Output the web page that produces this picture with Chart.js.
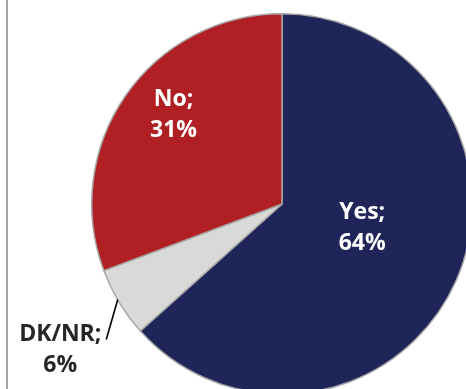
<!DOCTYPE html>
<html>
<head>
<meta charset="utf-8">
<script src="https://cdn.jsdelivr.net/npm/chart.js@4/dist/chart.umd.min.js"></script>
<style>
  html, body { margin: 0; padding: 0; background: #fff; }
  #frame { position: relative; width: 466px; height: 389px; overflow: hidden; background: #fff; }
  #frame canvas { position: absolute; left: 0; top: 0; }
  #rule { position: absolute; left: 6px; top: 0; width: 2px; height: 389px; background: #a6a6a6; }
</style>
</head>
<body>
<div id="frame">
  <canvas id="pie" width="564" height="408"></canvas>
  <div id="rule"></div>
</div>
<script>
const answers = ['Yes', 'DK/NR', 'No'];
const shares = [64, 6, 31];
const sliceColors = ['#1f2459', '#d9d9d7', '#b01f24'];
const labelColors = ['#ffffff', '#262626', '#ffffff'];

// where each label sits: inside labels at a fraction of the radius,
// outside labels hang off a short leader line
const labelSpots = [
    { frac: 0.45, dx: 2, dy: -4 },
    { frac: 1.0, leader: [-13, 37], dx: -46, dy: 17 },
    { frac: 0.7, dx: 1, dy: -7 }
];

const sliceLabels = {
    id: 'sliceLabels',
    afterDatasetsDraw(chart) {
        const ctx = chart.ctx;
        const arcs = chart.getDatasetMeta(0).data;
        ctx.save();
        ctx.font = 'bold 23px "Open Sans", sans-serif';
        ctx.textAlign = 'center';
        ctx.textBaseline = 'alphabetic';
        arcs.forEach((arc, i) => {
            const p = arc.getProps(['x', 'y', 'startAngle', 'endAngle', 'outerRadius'], true);
            const mid = (p.startAngle + p.endAngle) / 2;
            const spot = labelSpots[i];
            let ax = p.x + Math.cos(mid) * p.outerRadius * spot.frac;
            let ay = p.y + Math.sin(mid) * p.outerRadius * spot.frac;
            if (spot.leader) {
                const ex = ax + spot.leader[0];
                const ey = ay + spot.leader[1];
                ctx.beginPath();
                ctx.moveTo(ax - 1.5, ay - 3);
                ctx.lineTo(ex, ey);
                ctx.strokeStyle = '#000';
                ctx.lineWidth = 1.6;
                ctx.stroke();
                ax = ex;
                ay = ey;
            }
            ax += spot.dx;
            ay += spot.dy;
            ctx.fillStyle = labelColors[i];
            ctx.fillText(answers[i] + ';', ax, ay - 15.5);
            ctx.fillText(shares[i] + '%', ax, ay + 15.5);
        });
        ctx.restore();
    }
};

new Chart(document.getElementById('pie'), {
    type: 'pie',
    data: {
        labels: answers,
        datasets: [{
            data: shares,
            backgroundColor: sliceColors,
            borderColor: '#a6a6a6',
            borderWidth: 1.5
        }]
    },
    options: {
        responsive: false,
        animation: false,
        events: [],
        layout: { padding: 13 },
        plugins: {
            legend: { display: false },
            tooltip: { enabled: false }
        }
    },
    plugins: [sliceLabels]
});
</script>
</body>
</html>
